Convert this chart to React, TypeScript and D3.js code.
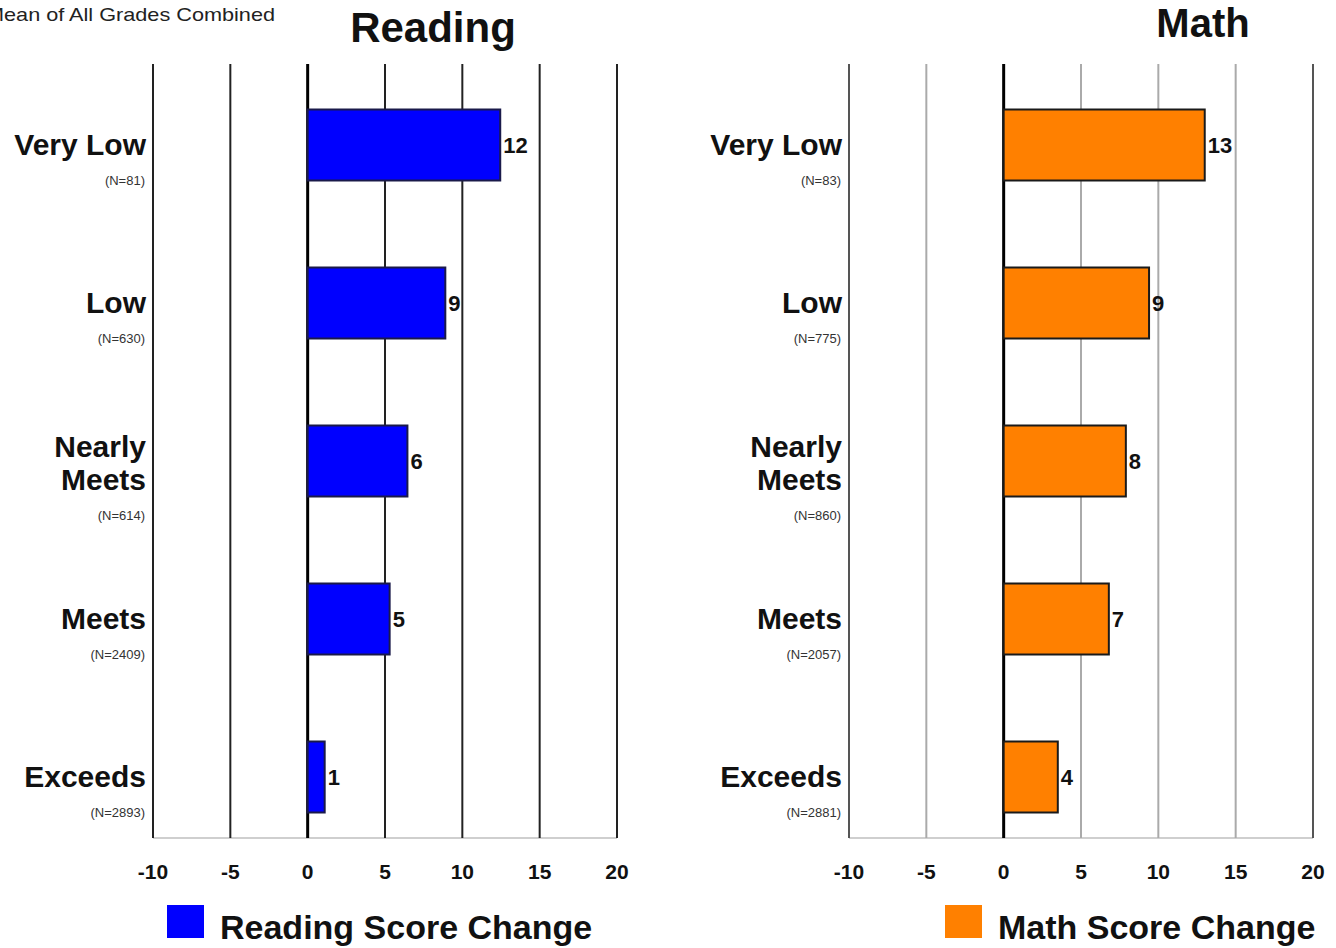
import React from "react";
import * as d3 from "d3";

const categories = ["Very Low", "Low", "Nearly Meets", "Meets", "Exceeds"];
const categoryLines = [["Very Low"], ["Low"], ["Nearly", "Meets"], ["Meets"], ["Exceeds"]];
const readingN = [81, 630, 614, 2409, 2893];
const mathN = [83, 775, 860, 2057, 2881];
const readingValues = [12.45, 8.9, 6.45, 5.3, 1.1];
const mathValues = [13.0, 9.4, 7.9, 6.8, 3.5];
const xTicks = [-10, -5, 0, 5, 10, 15, 20];

const FONT = "'Liberation Sans', Arial, Helvetica, sans-serif";

type PanelProps = {
  x0: number;
  x1: number;
  title: string;
  titleX: number;
  titleY: number;
  titleSize: number;
  values: number[];
  ns: number[];
  fill: string;
  stroke: string;
  gridColor: string;
  edgeColor: string;
  legend: string;
  legendX: number;
};

const TOP = 64;
const BOTTOM = 838;

function Panel(p: PanelProps) {
  const x = d3.scaleLinear().domain([-10, 20]).range([p.x0, p.x1]);
  const y = d3.scalePoint<string>().domain(categories).range([145, 777]);
  const barH = 71;
  const labelX = x(-10) - 7;
  return (
    <g>
      <text x={p.titleX} y={p.titleY} textAnchor="middle" fontFamily={FONT} fontWeight="bold" fontSize={p.titleSize} fill="#111">
        {p.title}
      </text>
      <line x1={x(-10)} x2={x(20)} y1={BOTTOM} y2={BOTTOM} stroke="#cfcfcf" strokeWidth={2} />
      {xTicks.map((t, i) => {
        const isZero = t === 0;
        const isEdge = i === 0 || i === xTicks.length - 1;
        return (
          <line
            key={"g" + t}
            x1={x(t)}
            x2={x(t)}
            y1={TOP}
            y2={BOTTOM}
            stroke={isZero ? "#000" : isEdge ? p.edgeColor : p.gridColor}
            strokeWidth={isZero ? 3 : 2}
          />
        );
      })}
      {xTicks.map((t) => (
        <text key={"t" + t} x={x(t)} y={879} textAnchor="middle" fontFamily={FONT} fontWeight="bold" fontSize={21} fill="#111">
          {t}
        </text>
      ))}
      {categories.map((c, i) => {
        const cy = y(c) as number;
        const v = p.values[i];
        return (
          <g key={c}>
            <rect
              x={x(0)}
              y={cy - barH / 2}
              width={x(v) - x(0)}
              height={barH}
              fill={p.fill}
              stroke={p.stroke}
              strokeWidth={2}
            />
            <text x={x(v) + 3} y={cy + 8} fontFamily={FONT} fontWeight="bold" fontSize={22} fill="#111">
              {Math.round(v)}
            </text>
          </g>
        );
      })}
      {categories.map((c, i) => {
        const cy = y(c) as number;
        const lines = categoryLines[i];
        const multi = lines.length > 1;
        const first = multi ? cy - 4 : cy + 10;
        return (
          <g key={"l" + c}>
            {lines.map((ln, j) => (
              <text key={ln} x={labelX} y={first + j * 33} textAnchor="end" fontFamily={FONT} fontWeight="bold" fontSize={30} fill="#111">
                {ln}
              </text>
            ))}
            <text
              x={labelX - 1}
              y={first + (lines.length - 1) * 33 + 30}
              textAnchor="end"
              fontFamily={FONT}
              fontSize={13}
              fill="#333"
            >
              {`(N=${p.ns[i]})`}
            </text>
          </g>
        );
      })}
      <rect x={p.legendX} y={905} width={37} height={33} fill={p.fill} />
      <text x={p.legendX + 53} y={939} fontFamily={FONT} fontWeight="bold" fontSize={34} fill="#111">
        {p.legend}
      </text>
    </g>
  );
}

export default function App() {
  return (
    <svg
      width={1336}
      height={948}
      viewBox="0 0 1336 948"
      style={{ position: "absolute", left: 0, top: 0, background: "#fff" }}
    >
      <rect x={0} y={0} width={1336} height={948} fill="#fff" />
      <text x={-14} y={21} fontFamily={FONT} fontSize={19} fill="#222" textLength={289} lengthAdjust="spacingAndGlyphs">
        Mean of All Grades Combined
      </text>
      <Panel
        x0={153}
        x1={617}
        title="Reading"
        titleX={433}
        titleY={42}
        titleSize={42}
        values={readingValues}
        ns={readingN}
        fill="#0000ff"
        stroke="#1a1a4a"
        gridColor="#222"
        edgeColor="#222"
        legend="Reading Score Change"
        legendX={167}
      />
      <Panel
        x0={849}
        x1={1313}
        title="Math"
        titleX={1203}
        titleY={37}
        titleSize={40}
        values={mathValues}
        ns={mathN}
        fill="#ff8000"
        stroke="#1a1a1a"
        gridColor="#aaaaaa"
        edgeColor="#555"
        legend="Math Score Change"
        legendX={945}
      />
    </svg>
  );
}
